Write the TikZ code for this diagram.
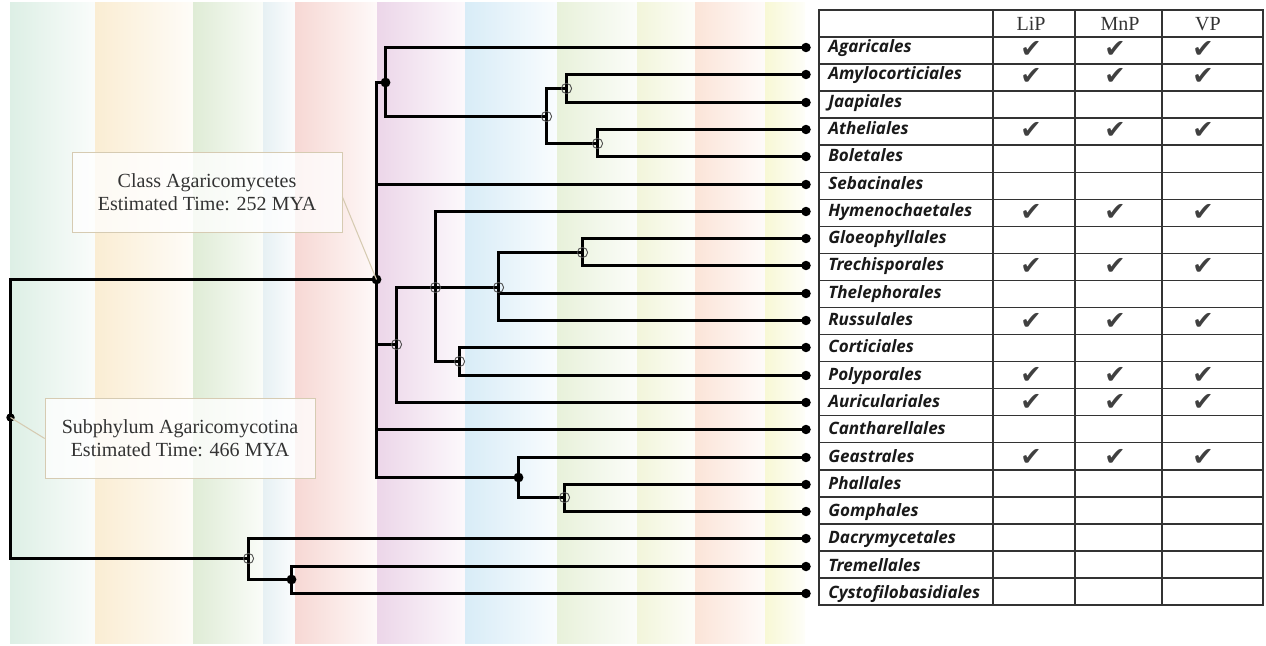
\documentclass[tikz,border=0pt]{standalone}
\usepackage{fontspec}
\setmainfont{Liberation Serif}
\newfontfamily\ordemfont{Open Sans}
\newfontfamily\simbolofont{DejaVu Sans}
\definecolor{faixaA}{HTML}{DDEFE5}
\definecolor{faixaB}{HTML}{FAEDD3}
\definecolor{faixaC}{HTML}{DFECD6}
\definecolor{faixaD}{HTML}{E6F0F3}
\definecolor{faixaE}{HTML}{F7D8D4}
\definecolor{faixaF}{HTML}{ECD6E9}
\definecolor{faixaG}{HTML}{D8ECF7}
\definecolor{faixaH}{HTML}{E8F1DA}
\definecolor{faixaI}{HTML}{F2F5DA}
\definecolor{faixaJ}{HTML}{FBE4D8}
\definecolor{faixaK}{HTML}{F8F8D5}
\definecolor{caixacor}{HTML}{D6CBB2}
\begin{document}
\begin{tikzpicture}[x=0.02cm, y=-0.02cm,
    every node/.style={font=\fontsize{11.4}{13}\selectfont, text=black!80},
    ramo/.style={black, line width=1.5pt},
    aberto/.style={draw=black!70, line width=0.5pt},
    caixa/.style={draw=caixacor, fill=white, fill opacity=0.75, text opacity=1,
        align=center, minimum width=5.4cm, minimum height=1.6cm, inner sep=0pt},
    guia/.style={draw=caixacor, line width=0.6pt},
    grade/.style={draw=black!80, line width=0.8pt},
    ordem/.style={anchor=west, inner sep=0pt, text=black!90,
        font=\ordemfont\bfseries\itshape\fontsize{9.7}{10}\selectfont,
        text height=1.6ex, text depth=0.45ex},
    marca/.style={font=\simbolofont\fontsize{14.5}{14.5}\selectfont, text=black!75}]
    \useasboundingbox (0,0) rectangle (1266,645);

    % Faixas de fundo
    \foreach \xa/\xb/\cf in {10/95/faixaA, 95/193/faixaB, 193/263/faixaC,
        263/295/faixaD, 295/377/faixaE, 377/465/faixaF, 465/557/faixaG,
        557/637/faixaH, 637/695/faixaI, 695/765/faixaJ, 765/805/faixaK}
        \shade[left color=\cf, right color=\cf!15!white] (\xa,3) rectangle (\xb,643);

    % Pontas e nomes das ordens
    \foreach \nome [count=\i from 0] in {Agaricales, Amylocorticiales, Jaapiales,
        Atheliales, Boletales, Sebacinales, Hymenochaetales, Gloeophyllales,
        Trechisporales, Thelephorales, Russulales, Corticiales, Polyporales,
        Auriculariales, Cantharellales, Geastrales, Phallales, Gomphales,
        Dacrymycetales, Tremellales, Cystofilobasidiales} {
        \pgfmathsetmacro{\yy}{round(47+27.3*\i)+0.5}
        \coordinate (t\i) at (806, \yy);
        \node[ordem] (n\i) at (828, \yy) {\nome};
    }

    % Nos internos
    \coordinate (raiz) at (10.5,417.5);
    \coordinate (agc) at (376.5,279.5);
    \coordinate (agar) at (385.5,82.5);
    \coordinate (amy) at (546.5,116.5);
    \coordinate (jaa) at (566.5,88.5);
    \coordinate (ath) at (597.5,143.5);
    \coordinate (hym) at (396.5,344.5);
    \coordinate (hym2) at (435.5,287.5);
    \coordinate (tre) at (498.5,287.5);
    \coordinate (glo) at (582.5,252.5);
    \coordinate (cor) at (459.5,361.5);
    \coordinate (gea) at (518.5,477.5);
    \coordinate (pha) at (564.5,497.5);
    \coordinate (dac) at (248.5,558.5);
    \coordinate (trm) at (291.5,579.5);

    % Ramos
    \draw[ramo] (raiz) |- (agc) (raiz) |- (dac)
        (agc) |- (agar) (agc) |- (t5) (agc) |- (hym) (agc) |- (t14) (agc) |- (gea)
        (agar) |- (t0) (agar) |- (amy)
        (amy) |- (jaa) (amy) |- (ath)
        (jaa) |- (t1) (jaa) |- (t2)
        (ath) |- (t3) (ath) |- (t4)
        (hym) |- (hym2) (hym) |- (t13)
        (hym2) |- (t6) (hym2) |- (tre) (hym2) |- (cor)
        (tre) |- (glo) (tre) |- (t9) (tre) |- (t10)
        (glo) |- (t7) (glo) |- (t8)
        (cor) |- (t11) (cor) |- (t12)
        (gea) |- (t15) (gea) |- (pha)
        (pha) |- (t16) (pha) |- (t17)
        (dac) |- (t18) (dac) |- (trm)
        (trm) |- (t19) (trm) |- (t20);

    % Marcadores dos nos
    \foreach \i in {0,...,20}
        \fill (t\i) circle (2.7pt);
    \fill (raiz) circle (2.4pt);
    \foreach \p in {agc, agar, gea, trm}
        \fill (\p) circle (2.8pt);
    \foreach \p in {amy, jaa, ath, hym, hym2, tre, glo, cor, pha, dac}
        \draw[aberto] (\p) circle (2.9pt);

    % Rotulos de tempo
    \node[caixa] (classe) at (207,192) {Class Agaricomycetes\\Estimated Time: 252 MYA};
    \draw[guia] (classe.-2) -- (agc);
    \node[caixa] (sub) at (180,438.5) {Subphylum Agaricomycotina\\Estimated Time: 466 MYA};
    \draw[guia] (sub.west) -- (raiz);

    % Tabela
    \draw[grade] (819,10) rectangle (1263,605);
    \foreach \cx in {993, 1075, 1162}
        \draw[grade] (\cx,10) -- (\cx,605);
    \foreach \j in {0,...,20}
        \draw[grade] (819,37+27.05*\j) -- (1263,37+27.05*\j);
    \node (lip) at (1031,24) {LiP};
    \node (mnp) at (1120,24) {MnP};
    \node (vp) at (1208,24) {VP};
    \foreach \j in {0,1,3,6,8,10,12,13,15} {
        \node[marca] (ca\j) at (1031, 49+27.2*\j) {✔};
        \node[marca] (cb\j) at (1115, 49+27.2*\j) {✔};
        \node[marca] (cc\j) at (1203, 49+27.2*\j) {✔};
    }
\end{tikzpicture}
\end{document}
